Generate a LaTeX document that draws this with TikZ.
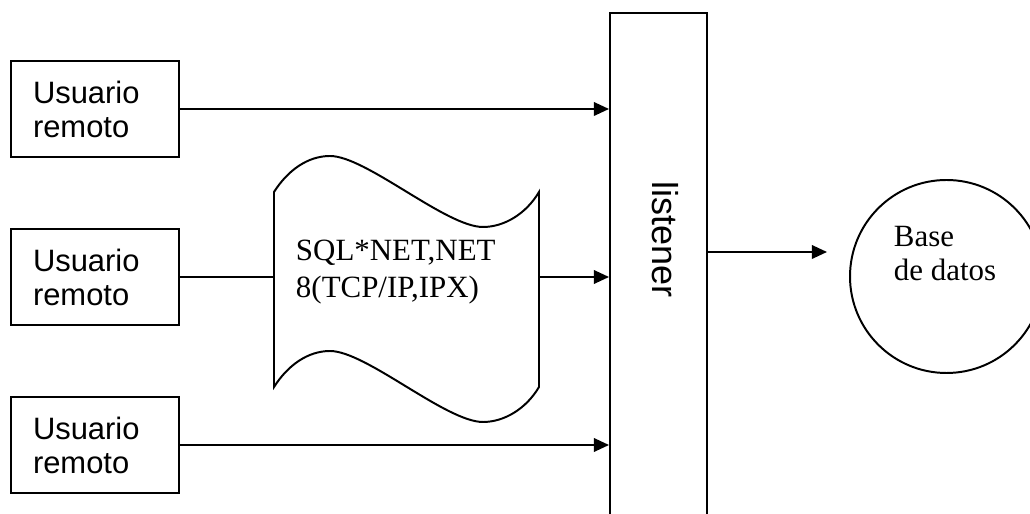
\documentclass[tikz,border=0pt]{standalone}
\usepackage{fontspec}
\setmainfont{Liberation Serif}
\setsansfont{Liberation Sans}
\usepackage{tikz}
\usetikzlibrary{arrows.meta}

\tikzset{
	usuario/.style={draw, minimum height=2.4cm, text width=3.1cm, inner xsep=0.55cm, align=left, font=\sffamily\fontsize{22}{24.2}\selectfont},
	flecha/.style={-{Triangle[length=0.38cm,width=0.34cm]}}
}

\begin{document}
\begin{tikzpicture}[line width=1.4pt]
		\useasboundingbox (0, 0) rectangle (25.75, 12.85);
		\clip (0, 0) rectangle (25.75, 12.85);
		\node[usuario] (usr1) at (2.375, 10.125) {Usuario\\remoto};
		\node[usuario] (usr2) at (2.375, 5.925) {Usuario\\remoto};
		\node[usuario] (usr3) at (2.375, 1.725) {Usuario\\remoto};
		\node[draw, minimum width=2.425cm, minimum height=13.025cm] (lst) at (16.4625, 6.0125) {};
		\node[rotate=-90, font=\sffamily\fontsize{25.6}{28}\selectfont] (lsttxt) at (16.625, 6.85) {listener};
		% cinta de red
		\node[minimum width=6.625cm, minimum height=4.875cm, inner sep=0] (red) at (10.1625, 5.6125) {};
		\draw[shift={(6.85, 8.05)}] (0, 0) .. controls (0.35, 0.55) and (0.85, 0.9) .. (1.4, 0.9)
			.. controls (2.3, 0.9) and (4.3, -0.875) .. (5.225, -0.875)
			.. controls (5.75, -0.875) and (6.3, -0.55) .. (6.625, 0) -- (6.625, -4.875)
			.. controls (6.3, -5.425) and (5.75, -5.75) .. (5.225, -5.75)
			.. controls (4.3, -5.75) and (2.3, -3.975) .. (1.4, -3.975)
			.. controls (0.85, -3.975) and (0.35, -4.325) .. (0, -4.875) -- cycle;
		\node[anchor=north west, inner sep=0, align=left, font=\fontsize{22}{26.3}\selectfont] (redtxt) at (7.375, 6.875) {SQL*NET,NET\\8(TCP/IP,IPX)};
		% base de datos
		\node[draw, circle, minimum size=4.825cm] (bd) at (23.6625, 5.9375) {};
		\node[anchor=north west, inner sep=0, align=left, font=\fontsize{22}{24.2}\selectfont] (bdtxt) at (22.325, 7.2125) {Base\\de datos};
		\coordinate (bdin) at (20.675, 6.55);
		\draw[flecha] (usr1.east) -- (lst.west |- usr1.east);
		\draw (usr2.east) -- (red.west |- usr2.east);
		\draw[flecha] (red.east |- usr2.east) -- (lst.west |- usr2.east);
		\draw[flecha] (usr3.east) -- (lst.west |- usr3.east);
		\draw[flecha] (lst.east |- bdin) -- (bdin);
	\end{tikzpicture}
\end{document}
